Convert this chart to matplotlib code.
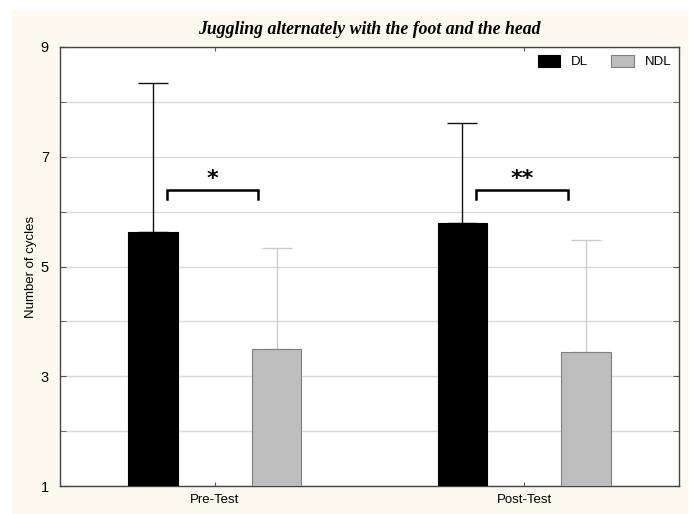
import numpy as np
import matplotlib.pyplot as plt
from matplotlib.patches import Rectangle

# mean number of cycles and SD per test / leg
tests = ['Pre-Test', 'Post-Test']
dl_mean = [5.63, 5.79]
dl_sd = [2.71, 1.82]
ndl_mean = [3.50, 3.44]
ndl_sd = [1.84, 2.04]
sig_marks = ['*', '**']
sig_level = [6.39, 6.39]

fig = plt.figure(figsize=(6.91, 5.14), dpi=100, facecolor='white')
# cream panel behind the chart
fig.patches.append(Rectangle((12 / 691, 0), 676 / 691, 504 / 514,
                             transform=fig.transFigure, facecolor='#fdf9ee',
                             edgecolor='none', zorder=-1))

ax = fig.add_axes([60 / 691, 28 / 514, 619 / 691, 439 / 514])
ax.set_facecolor('white')

x = np.arange(len(tests))
off = 0.2
w = 0.16

ax.bar(x - off, np.array(dl_mean) - 1, w, bottom=1, color='black',
       edgecolor='black', linewidth=0.8, label='DL', zorder=3)
ax.bar(x + off, np.array(ndl_mean) - 1, w, bottom=1, color='#bdbdbd',
       edgecolor='#7f7f7f', linewidth=0.8, label='NDL', zorder=3)

# upper error bars only
ax.errorbar(x - off, dl_mean, yerr=[np.zeros(2), dl_sd], fmt='none',
            ecolor='#111111', elinewidth=1, capsize=11, capthick=1, zorder=2)
ax.errorbar(x + off, ndl_mean, yerr=[np.zeros(2), ndl_sd], fmt='none',
            ecolor='#cccccc', elinewidth=1, capsize=11, capthick=1, zorder=2)

# significance brackets
for xi, lev, mark in zip(x, sig_level, sig_marks):
    xl, xr = xi - 0.155, xi + 0.14
    ax.plot([xl, xl, xr, xr], [lev - 0.16, lev, lev, lev - 0.16],
            color='black', linewidth=1.8, solid_joinstyle='miter', zorder=4)
    ax.text((xl + xr) / 2, lev + 0.03, mark, ha='center', va='bottom',
            fontsize=16, fontweight='bold', family='DejaVu Sans')

ax.set_xlim(-0.5, 1.5)
ax.set_ylim(1, 9)
ax.set_xticks(x)
ax.set_xticklabels(tests, fontsize=9.5, family='Liberation Sans')
ax.set_yticks([1, 3, 5, 7, 9])
ax.set_yticks(np.arange(2, 9), minor=True)
ax.set_yticklabels(['1', '3', '5', '7', '9'], fontsize=10.5, family='Liberation Sans')
ax.tick_params(axis='y', which='both', direction='in', length=4, right=True,
               color='#555555', pad=8)
ax.tick_params(axis='x', direction='in', length=3, top=True, color='#555555', pad=6)
ax.grid(axis='y', which='both', color='#d9d9d9', linewidth=1, zorder=0)
ax.set_axisbelow(True)
for s in ax.spines.values():
    s.set_color('#444444')
    s.set_linewidth(1)

ax.set_ylabel('Number of cycles', fontsize=9.5, family='Liberation Sans', labelpad=3)
fig.text((60 + 619 / 2) / 691, 1 - 29 / 514, 'Juggling alternately with the foot and the head',
         ha='center', va='center', fontsize=12.8, fontweight='bold', fontstyle='italic',
         family='Liberation Serif')

leg = ax.legend(loc='upper right', ncol=2, frameon=False,
                prop={'family': 'Liberation Sans', 'size': 9.5},
                handlelength=1.7, handleheight=1.0, columnspacing=1.8,
                handletextpad=0.8, borderaxespad=0.2)

fig.savefig('out.png', dpi=100, facecolor=fig.get_facecolor())
